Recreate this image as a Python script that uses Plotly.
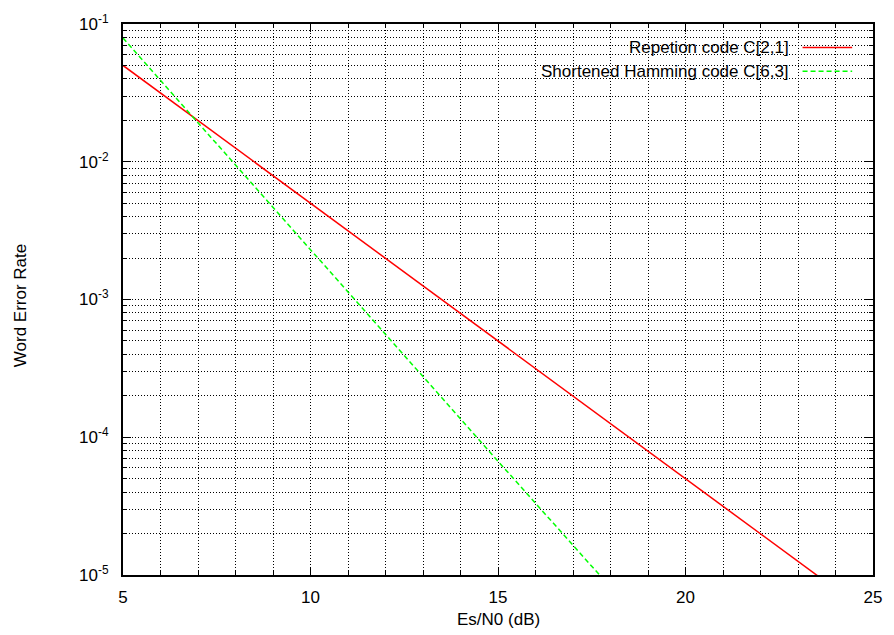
import plotly.graph_objects as go

# ---- data ----
snr_db = [5, 10, 15, 20, 25]
wer_repetition = [5.0e-2, 5.0e-3, 5.0e-4, 5.0e-5, 5.0e-6]
wer_hamming = [7.9e-2, 2.3e-3, 6.7e-5, 2.0e-6, 5.8e-8]
series_names = ["Repetion code C[2,1]", "Shortened Hamming code C[6,3]"]
series_colors = ["#ff0000", "#00ff00"]
series_dash = ["solid", "5px,3px"]

x_major = [5, 10, 15, 20, 25]
x_minor = list(range(5, 26))
y_major = [1e-5, 1e-4, 1e-3, 1e-2, 1e-1]
y_major_text = ["10<sup>-5</sup>", "10<sup>-4</sup>", "10<sup>-3</sup>",
                "10<sup>-2</sup>", "10<sup>-1</sup>"]
y_minor = [m * d for d in [1e-5, 1e-4, 1e-3, 1e-2] for m in range(2, 10)]

FONT = "Liberation Sans, Arial, sans-serif"
FS = 17

W, H = 894, 635
L, R, T, B = 123, 15, 15, 60
PW, PH = W - L - R, H - T - B


def px(xp):
    return (xp - L) / PW


def py(yp):
    return (H - B - yp) / PH


fig = go.Figure()
fig.add_trace(go.Scatter(x=snr_db, y=wer_repetition, mode="lines",
                         name=series_names[0],
                         line=dict(color=series_colors[0], width=1.5,
                                   dash=series_dash[0])))
fig.add_trace(go.Scatter(x=snr_db, y=wer_hamming, mode="lines",
                         name=series_names[1],
                         line=dict(color=series_colors[1], width=1.5,
                                   dash=series_dash[1])))

grid = dict(showgrid=True, gridcolor="#000000", gridwidth=1, griddash="1px,2px")

fig.update_xaxes(range=[5, 25], tickmode="array", tickvals=x_major,
                 ticktext=[str(v) for v in x_major],
                 ticks="inside", ticklen=8, tickwidth=1, tickcolor="#000",
                 showline=True, linecolor="#000", linewidth=2, mirror="allticks",
                 zeroline=False, ticklabelstandoff=6,
                 tickfont=dict(family=FONT, size=FS, color="#000"),
                 minor=dict(tickmode="array", tickvals=x_minor, ticks="inside",
                            ticklen=4, tickcolor="#000", **grid),
                 **grid)
fig.update_yaxes(type="log", range=[-5, -1], tickmode="array",
                 tickvals=y_major, ticktext=y_major_text,
                 ticks="inside", ticklen=8, tickwidth=1, tickcolor="#000",
                 showline=True, linecolor="#000", linewidth=2, mirror="allticks",
                 zeroline=False, ticklabelstandoff=9,
                 tickfont=dict(family=FONT, size=FS, color="#000"),
                 minor=dict(tickmode="array", tickvals=y_minor, ticks="inside",
                            ticklen=4, tickcolor="#000", **grid),
                 **grid)

# custom gnuplot-style key (text left, sample right), opaque background
shapes = [dict(type="rect", xref="paper", yref="paper",
               x0=px(488), x1=px(868), y0=py(78), y1=py(22),
               fillcolor="white", line=dict(width=0), layer="between")]
annotations = []
rows_y = [39, 63]
for i, name in enumerate(series_names):
    annotations.append(dict(text=name, xref="paper", yref="paper",
                            x=px(796), y=py(rows_y[i]), xanchor="right",
                            yanchor="middle", showarrow=False,
                            font=dict(family=FONT, size=FS, color="#000")))
    shapes.append(dict(type="line", xref="paper", yref="paper",
                       x0=px(808), x1=px(858), y0=py(rows_y[i]), y1=py(rows_y[i]),
                       line=dict(color=series_colors[i], width=1.5,
                                 dash=series_dash[i]), layer="above"))

annotations.append(dict(text="Es/N0 (dB)", xref="paper", yref="paper",
                        x=0.5, y=py(620), xanchor="center", yanchor="middle",
                        showarrow=False,
                        font=dict(family=FONT, size=FS, color="#000")))
annotations.append(dict(text="Word Error Rate", xref="paper", yref="paper",
                        x=px(20), y=py(301), xanchor="center", yanchor="middle",
                        textangle=-90, showarrow=False,
                        font=dict(family=FONT, size=FS, color="#000")))

fig.update_layout(width=W, height=H, margin=dict(l=L, r=R, t=T, b=B),
                  paper_bgcolor="white", plot_bgcolor="white",
                  showlegend=False, shapes=shapes, annotations=annotations,
                  font=dict(family=FONT, size=FS, color="#000"))

fig.write_html("out.html",
               config={"displayModeBar": False},
               post_script="document.body.style.margin='0';"
                           "document.body.style.overflow='hidden';")
